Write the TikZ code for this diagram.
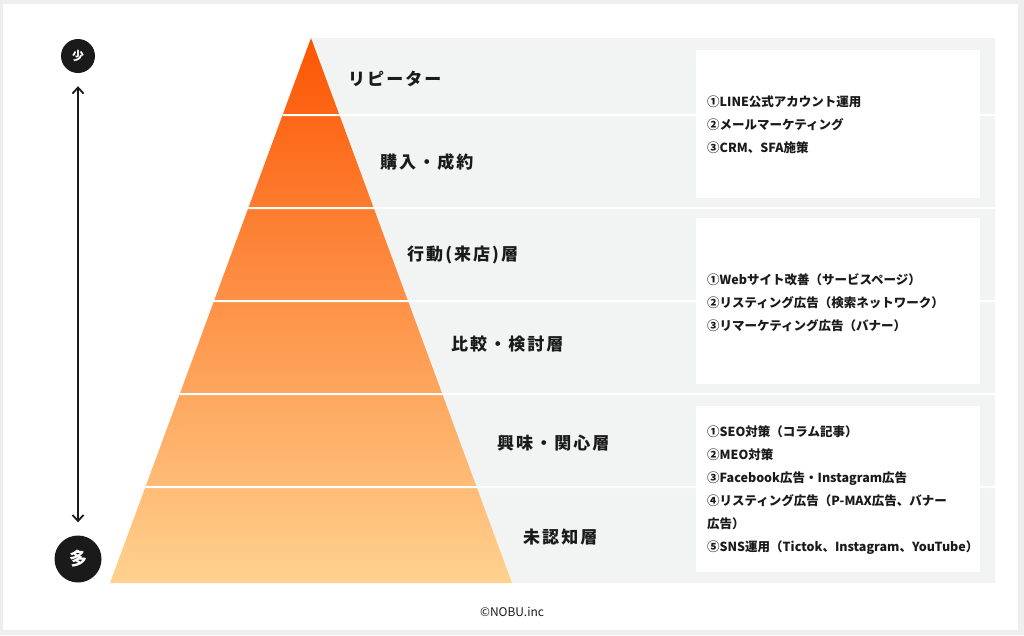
\documentclass[tikz,border=0pt]{standalone}
\usepackage{fontspec}
\setmainfont{Noto Sans CJK JP}
\usetikzlibrary{arrows.meta,calc}
\definecolor{framegrey}{HTML}{EEEEEE}
\definecolor{band}{HTML}{F2F4F4}
\definecolor{pyrtop}{HTML}{FC5503}
\definecolor{pyrmid}{HTML}{FD8835}
\definecolor{pyrbot}{HTML}{FFD28F}
\definecolor{ink}{HTML}{1A1A1A}
\begin{document}
\begin{tikzpicture}[x=1pt,y=-1pt,
  sep/.style={white, line width=2pt},
  infobox/.style={fill=white, draw=none, anchor=north west, minimum width=284pt, inner sep=0pt},
  boxtext/.style={anchor=west, align=left, inner sep=0pt, text=ink, font=\bfseries\fontsize{12.5}{23}\selectfont},
  layer/.style={anchor=west, inner sep=0pt, text=ink, font=\bfseries\fontsize{17}{20}\selectfont\addfontfeature{LetterSpace=12}},
  circ/.style={circle, fill=ink, text=white, inner sep=0pt},
  arr/.style={{Straight Barb[length=6pt,width=11pt]}-{Straight Barb[length=6pt,width=11pt]}, line width=1.8pt, draw=ink, shorten <=13pt, shorten >=13pt}
]
\useasboundingbox (0,0) rectangle (1024,635);
\fill[framegrey] (0,0) rectangle (1024,635);
\fill[white] (3,4) rectangle (1018,630);
\fill[band] (312,38) rectangle (995,583);
% pyramid
\coordinate (apex) at (311,38);
\coordinate (bl) at (110,583);
\coordinate (br) at (512,583);
\shade[top color=pyrtop, middle color=pyrmid, bottom color=pyrbot] (apex) -- (br) -- (bl) -- cycle;
\foreach \yy in {115,208,301,394,487}{
  \draw[sep] ($(apex)!{(\yy-38)/545}!(bl)$) -- (995,\yy);
}
% layer labels
\node[layer] (l1) at (348,79) {リピーター};
\node[layer] (l2) at (380,162) {購入・成約};
\node[layer] (l3) at (407,255) {行動(来店)層};
\node[layer] (l4) at (451,344) {比較・検討層};
\node[layer] (l5) at (497,443) {興味・関心層};
\node[layer] (l6) at (523,537) {未認知層};
% boxes
\node[infobox, minimum height=148pt] (b1) at (696,50) {};
\node[infobox, minimum height=166pt] (b2) at (696,218) {};
\node[infobox, minimum height=166pt] (b3) at (696,406) {};
\node[boxtext] (t1) at (707,125) {①LINE公式アカウント運用\\②メールマーケティング\\③CRM、SFA施策};
\node[boxtext] (t2) at (707,303) {①Webサイト改善（サービスページ）\\②リスティング広告（検索ネットワーク）\\③リマーケティング広告（バナー）};
\node[boxtext] (t3) at (707,490) {①SEO対策（コラム記事）\\②MEO対策\\③Facebook広告・Instagram広告\\④リスティング広告（P-MAX広告、バナー\\広告）\\⑤SNS運用（Tictok、Instagram、YouTube）};
% scale
\node[circ, minimum size=34pt, font=\bfseries\fontsize{12}{12}\selectfont] (shao) at (78,56) {少};
\node[circ, minimum size=47pt, font=\bfseries\fontsize{18}{18}\selectfont] (duo) at (78,559) {多};
\draw[arr] (shao) -- (duo);
% credit
\node[text=ink, font=\fontsize{12}{12}\selectfont] (credit) at (512,612) {©NOBU.inc};
\end{tikzpicture}
\end{document}
